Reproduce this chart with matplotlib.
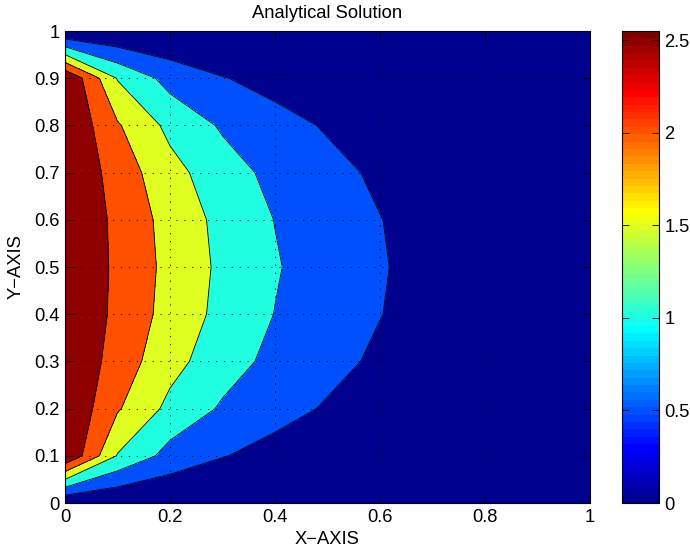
import matplotlib
import numpy as np

matplotlib.use("Agg")
import matplotlib.pyplot as plt  # noqa: E402
from matplotlib.cm import ScalarMappable  # noqa: E402
from matplotlib.colors import ListedColormap, Normalize  # noqa: E402

# grid of the solution (symmetric about y = 0.5)
x_grid = [0.0, 0.1, 0.2, 0.3, 0.4, 0.5, 0.6, 0.7, 0.8, 0.9, 1.0]
y_grid = [0.0, 0.1, 0.2, 0.3, 0.4, 0.5, 0.6, 0.7, 0.8, 0.9, 1.0]
u_rows = [
    [0.00, 0.00, 0.00, 0.00, 0.00, 0.00, 0.00, 0.00, 0.00, 0.00, 0.00],
    [3.00, 1.47, 0.82, 0.52, 0.35, 0.24, 0.17, 0.11, 0.07, 0.03, 0.00],
    [3.00, 2.05, 1.37, 0.94, 0.65, 0.46, 0.32, 0.21, 0.13, 0.06, 0.00],
    [3.00, 2.28, 1.67, 1.21, 0.87, 0.62, 0.43, 0.29, 0.18, 0.09, 0.00],
    [3.00, 2.38, 1.82, 1.36, 0.99, 0.72, 0.51, 0.34, 0.21, 0.10, 0.00],
    [3.00, 2.40, 1.86, 1.40, 1.04, 0.75, 0.53, 0.36, 0.22, 0.11, 0.00],
    [3.00, 2.38, 1.82, 1.36, 0.99, 0.72, 0.51, 0.34, 0.21, 0.10, 0.00],
    [3.00, 2.28, 1.67, 1.21, 0.87, 0.62, 0.43, 0.29, 0.18, 0.09, 0.00],
    [3.00, 2.05, 1.37, 0.94, 0.65, 0.46, 0.32, 0.21, 0.13, 0.06, 0.00],
    [3.00, 1.47, 0.82, 0.52, 0.35, 0.24, 0.17, 0.11, 0.07, 0.03, 0.00],
    [0.00, 0.00, 0.00, 0.00, 0.00, 0.00, 0.00, 0.00, 0.00, 0.00, 0.00],
]
contour_levels = [0.0, 0.5, 1.0, 1.5, 2.0, 2.5, 3.0]
color_limits = (0.0, 2.55)

x_ticks = [0, 0.2, 0.4, 0.6, 0.8, 1]
y_ticks = [0, 0.1, 0.2, 0.3, 0.4, 0.5, 0.6, 0.7, 0.8, 0.9, 1]
cbar_ticks = [0, 0.5, 1, 1.5, 2, 2.5]


def matlab_jet(m=64):
    n = m // 4
    h = n // 2
    rows = []
    for k in range(1, m + 1):
        if k <= h:
            rows.append((0, 0, (k + h) / n))
        elif k <= h + n:
            rows.append((0, (k - h) / n, 1))
        elif k <= h + 2 * n:
            rows.append(((k - h - n) / n, 1, (h + 2 * n - k) / n))
        elif k <= h + 3 * n:
            rows.append((1, (h + 3 * n - k) / n, 0))
        else:
            rows.append(((h + 4 * n - k) / n, 0, 0))
    return ListedColormap(rows)


plt.rcParams["font.family"] = ["Liberation Sans", "DejaVu Sans"]
plt.rcParams["font.size"] = 13.2

cmap = matlab_jet(64)
norm = Normalize(*color_limits)
lo, hi = color_limits
band_colors = [cmap.colors[min(int((lv - lo) / (hi - lo) * 64), 63)] for lv in contour_levels[:-1]]

X, Y = np.meshgrid(x_grid, y_grid)
Z = np.array(u_rows)

fig = plt.figure(figsize=(6.9, 5.57), dpi=100)
ax = fig.add_axes([65 / 690, 54 / 557, 525 / 690, 472 / 557])
cax = fig.add_axes([622 / 690, 54 / 557, 37 / 690, 472 / 557])

ax.contourf(X, Y, Z, levels=contour_levels, colors=band_colors)
ax.contour(X, Y, Z, levels=contour_levels[1:-1], colors="k", linewidths=0.6)

ax.set_xlim(0, 1)
ax.set_ylim(0, 1)
ax.set_xticks(x_ticks)
ax.set_yticks(y_ticks)
ax.set_xticklabels([f"{t:g}" for t in x_ticks])
ax.set_yticklabels([f"{t:g}" for t in y_ticks])
ax.set_axisbelow(False)
ax.grid(True, color="k", linestyle=(0, (1.5, 8)), linewidth=0.6)
ax.tick_params(direction="in", top=True, right=True, length=5, width=0.6, pad=4)
for sp in ax.spines.values():
    sp.set_linewidth(0.8)

ax.set_title("Analytical Solution", fontsize=13.2, pad=9)
ax.set_xlabel("X\u2212AXIS", labelpad=4)
ax.set_ylabel("Y\u2212AXIS", labelpad=7)

cb = fig.colorbar(ScalarMappable(norm=norm, cmap=cmap), cax=cax, ticks=cbar_ticks)
cb.ax.set_yticklabels([f"{t:g}" for t in cbar_ticks])
cb.ax.tick_params(direction="in", left=True, right=True, length=5, width=0.6, pad=4)
cb.outline.set_linewidth(0.8)

fig.savefig("out.png", dpi=100)
plt.close(fig)
